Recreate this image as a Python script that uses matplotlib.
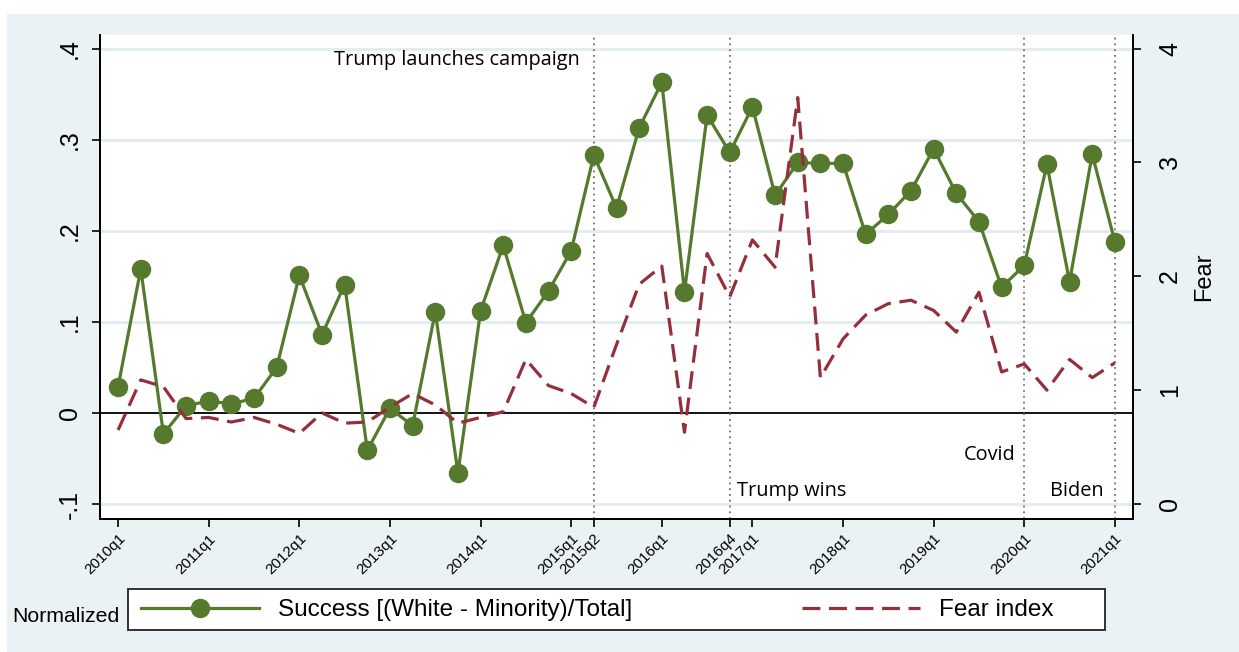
import matplotlib.pyplot as plt
import pandas as pd
from matplotlib.lines import Line2D
from matplotlib.patches import Rectangle

# quarters 2010q1 .. 2021q1
quarters = [f"{p.year}q{p.quarter}" for p in pd.period_range("2010Q1", "2021Q1", freq="Q")]

success = [0.029, 0.158, -0.023, 0.008, 0.013, 0.010, 0.016, 0.050, 0.151, 0.086,
           0.141, -0.041, 0.005, -0.014, 0.111, -0.066, 0.112, 0.184, 0.099, 0.134,
           0.178, 0.283, 0.225, 0.313, 0.363, 0.133, 0.327, 0.286, 0.336, 0.239,
           0.275, 0.274, 0.274, 0.196, 0.218, 0.244, 0.290, 0.241, 0.210, 0.138,
           0.162, 0.273, 0.144, 0.284, 0.188]

fear = [0.65, 1.09, 1.03, 0.75, 0.76, 0.72, 0.76, 0.70, 0.62, 0.80,
        0.71, 0.72, 0.85, 0.97, 0.87, 0.71, 0.76, 0.81, 1.27, 1.04,
        0.97, 0.85, 1.40, 1.93, 2.09, 0.63, 2.20, 1.82, 2.32, 2.08,
        3.57, 1.11, 1.45, 1.66, 1.76, 1.79, 1.70, 1.51, 1.86, 1.16,
        1.23, 1.00, 1.27, 1.11, 1.24]

tick_quarters = ["2010q1", "2011q1", "2012q1", "2013q1", "2014q1", "2015q1", "2015q2",
                 "2016q1", "2016q4", "2017q1", "2018q1", "2019q1", "2020q1", "2021q1"]
left_ticks = [-0.1, 0, 0.1, 0.2, 0.3, 0.4]
left_labels = ["-.1", "0", ".1", ".2", ".3", ".4"]
right_ticks = [0, 1, 2, 3, 4]

events = ["2015q2", "2016q4", "2020q1", "2021q1"]

green = "#557A2E"
red = "#93303C"
bg = "#EAF2F3"
sans = "Liberation Sans"
ann_font = "Open Sans"
dash = (0, (5.6, 2.7))

x = list(range(len(quarters)))
pos = {q: i for i, q in enumerate(quarters)}

fig = plt.figure(figsize=(12.39, 6.52), dpi=100, facecolor="white")
# bluish gray graph region (white margin top/left like the source)
fig.patches.append(Rectangle((7 / 1239, 0.002), 1, 1 - 14 / 652 - 0.002,
                             transform=fig.transFigure, color=bg, zorder=-10))

ax = fig.add_axes([100 / 1239, 1 - 519 / 652, 1033 / 1239, 484 / 652])
ax.set_facecolor("white")
ax2 = ax.twinx()

# gridlines + zero line
for t in left_ticks:
    if t == 0:
        ax.axhline(0, color="black", lw=1.3, zorder=2)
    else:
        ax.axhline(t, color="#E1ECEE", lw=2, zorder=1)

for e in events:
    ax.axvline(pos[e], color="#707070", lw=1.3, ls=(0, (1, 2.2)), zorder=2)

ax.plot(x, success, color=green, lw=2.3, marker="o", ms=13, zorder=3)
ax2.plot(x, fear, color=red, lw=2.3, ls=dash, zorder=3)

ylo, yhi = -0.1165, 0.415
ax.set_ylim(ylo, yhi)
ax2.set_ylim((ylo + 0.1) * 8, (yhi + 0.1) * 8)
ax.set_xlim(-0.8, len(quarters) - 1 + 0.8)

ax.set_yticks(left_ticks)
ax.set_yticklabels(left_labels)
ax2.set_yticks(right_ticks)
ax2.set_yticklabels([str(t) for t in right_ticks])
ax.set_xticks([pos[q] for q in tick_quarters])
ax.set_xticklabels(tick_quarters, rotation=45, ha="right", rotation_mode="anchor",
                   fontsize=11, family=sans)

ax.tick_params(axis="y", length=6, width=1.2, pad=7, labelsize=18, labelrotation=90)
ax2.tick_params(axis="y", right=True, labelright=True, length=6, width=1.2, pad=12,
                labelsize=18, labelrotation=90)
ax.tick_params(axis="x", length=6, width=1.2, pad=3)
for lab in ax.get_yticklabels():
    lab.set_family(sans)
    lab.set_va("center")
for lab in ax2.yaxis.get_ticklabels(which="major"):
    lab.set_family(sans)
    lab.set_va("center")
    lab.set_ha("left")
ax2.set_ylabel("Fear", fontsize=17, family=sans, labelpad=8)

for a in (ax, ax2):
    a.spines["top"].set_visible(False)
    for s in ("left", "right", "bottom"):
        a.spines[s].set_linewidth(1.3)

# event annotations
ax.annotate("Trump launches campaign", xy=(pos["2015q2"], 0.388), xytext=(-10, 0),
            textcoords="offset points", ha="right", va="center", fontsize=14.3, family=ann_font)
ax.annotate("Trump wins", xy=(pos["2016q4"], -0.086), xytext=(5, 0),
            textcoords="offset points", ha="left", va="center", fontsize=14.3, family=ann_font)
ax.annotate("Covid", xy=(pos["2020q1"], -0.046), xytext=(-6, 0),
            textcoords="offset points", ha="right", va="center", fontsize=14.3, family=ann_font)
ax.annotate("Biden", xy=(pos["2021q1"], -0.086), xytext=(-8, 0),
            textcoords="offset points", ha="right", va="center", fontsize=14.3, family=ann_font)

# legend
fig.patches.append(Rectangle((128 / 1239, 1 - 630 / 652), 977 / 1239, 41 / 652,
                             transform=fig.transFigure, facecolor="white",
                             edgecolor="#222222", lw=1.3, zorder=1))
h1 = Line2D([], [], color=green, lw=2.3, marker="o", ms=13)
h2 = Line2D([], [], color=red, lw=2.3, ls=dash)
fig.legend([h1, h2], ["Success [(White - Minority)/Total]", "Fear index"],
           loc="center left", bbox_to_anchor=(141 / 1239, 1 - 610 / 652), ncol=2,
           frameon=False, handlelength=4.85, handletextpad=0.78, columnspacing=7.0,
           borderpad=0, borderaxespad=0, prop={"family": sans, "size": 17.5})
fig.text(12 / 1239, 1 - 617 / 652, "Normalized", ha="left", va="center",
         fontsize=15.3, family=sans)

plt.savefig("out.png", dpi=100, facecolor=fig.get_facecolor())
